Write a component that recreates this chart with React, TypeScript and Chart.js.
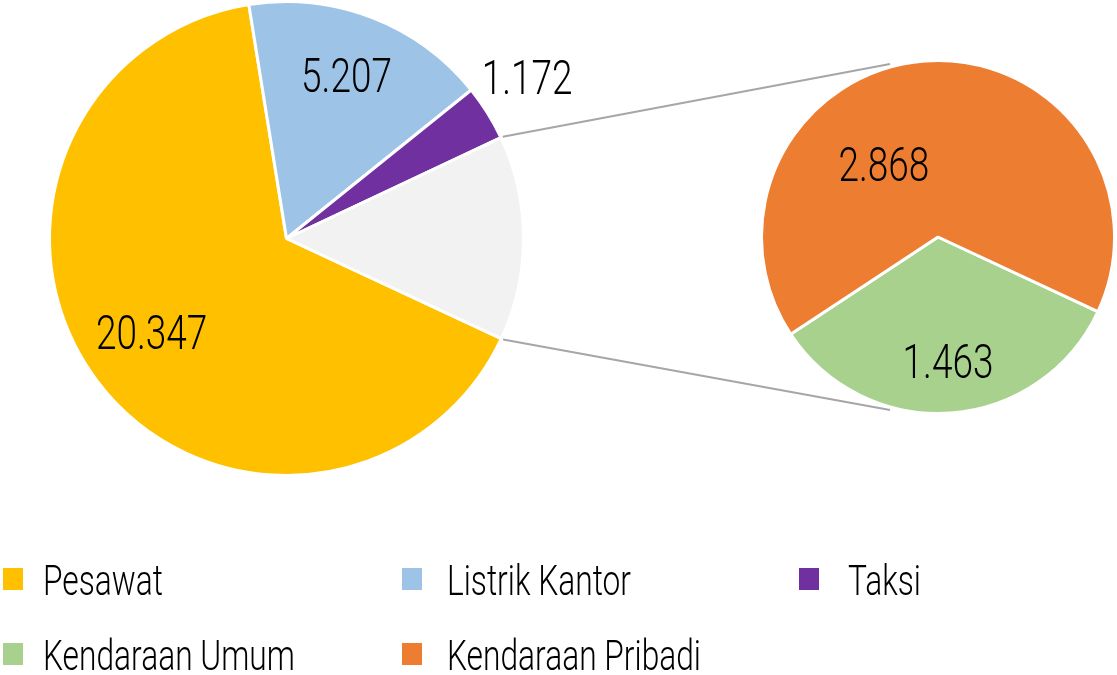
import React, { useEffect, useRef } from "react";
import { Chart, registerables } from "chart.js";

Chart.register(...registerables);

// ---- data ----
const mainLabels = ["Pesawat", "Listrik Kantor", "Taksi", "Lainnya"];
const subLabels = ["Kendaraan Umum", "Kendaraan Pribadi"];
const subValues = [1463, 2868];
const mainValues = [20347, 5207, 1172, subValues[0] + subValues[1]];
const mainColors = ["#FFC000", "#9DC3E6", "#7030A0", "#F2F2F2"];
const subColors = ["#A9D18E", "#ED7D31"];
const legendLabels = ["Pesawat", "Listrik Kantor", "Taksi", "Kendaraan Umum", "Kendaraan Pribadi"];
const legendColors = ["#FFC000", "#9DC3E6", "#7030A0", "#A9D18E", "#ED7D31"];

const FONT = 'Roboto, "DejaVu Sans Condensed", sans-serif';
const W = 1117;
const H = 675;
const NUM_SIZE = 48;
const NUM_SCALE_X = 0.77;
const LEG_SIZE = 42;
const LEG_SCALE_X = 0.755;

const fmt = (v: number) => String(v).replace(/\B(?=(\d{3})+(?!\d))/g, ".");

function drawLabels(chart: any, placement: { r: number; shift: number; show: boolean }[]) {
  const ctx = chart.ctx;
  const meta = chart.getDatasetMeta(0);
  const values = chart.data.datasets[0].data as number[];
  meta.data.forEach((arc: any, i: number) => {
    const p = placement[i];
    if (!p || !p.show) return;
    const mid = (arc.startAngle + arc.endAngle) / 2 + (p.shift * Math.PI) / 180;
    const rr = arc.outerRadius * p.r;
    const x = arc.x + rr * Math.cos(mid);
    const y = arc.y + rr * Math.sin(mid);
    ctx.save();
    ctx.font = `300 ${NUM_SIZE}px ${FONT}`;
    ctx.fillStyle = "#000";
    ctx.textAlign = "center";
    ctx.textBaseline = "alphabetic";
    ctx.translate(x, y + NUM_SIZE * 0.355);
    ctx.scale(NUM_SCALE_X, 1);
    ctx.fillText(fmt(values[i]), 0, 0);
    ctx.restore();
  });
}

export default function App() {
  const ref1 = useRef<HTMLCanvasElement>(null);
  const ref2 = useRef<HTMLCanvasElement>(null);

  useEffect(() => {
    document.body.style.margin = "0";
    const c1 = new Chart(ref1.current as HTMLCanvasElement, {
      type: "pie",
      data: {
        labels: mainLabels,
        datasets: [
          {
            data: mainValues,
            backgroundColor: mainColors,
            borderColor: "#FFFFFF",
            borderWidth: 3,
          },
        ],
      },
      options: {
        responsive: false,
        maintainAspectRatio: false,
        animation: false,
        devicePixelRatio: 1,
        rotation: 115,
        layout: { padding: { left: 48, right: W - 525, top: 0, bottom: H - 477 } },
        plugins: { legend: { display: false }, tooltip: { enabled: false } },
      },
      plugins: [
        {
          id: "mainLabels",
          afterDatasetsDraw(chart: any) {
            drawLabels(chart, [
              { r: 0.693, shift: 2.3, show: true },
              { r: 0.736, shift: -0.9, show: true },
              { r: 1.222, shift: -1.8, show: true },
              { r: 0, shift: 0, show: false },
            ]);
          },
        },
      ],
    });

    const c2 = new Chart(ref2.current as HTMLCanvasElement, {
      type: "pie",
      data: {
        labels: subLabels,
        datasets: [
          {
            data: subValues,
            backgroundColor: subColors,
            borderColor: "#FFFFFF",
            borderWidth: 3,
          },
        ],
      },
      options: {
        responsive: false,
        maintainAspectRatio: false,
        animation: false,
        devicePixelRatio: 1,
        rotation: 115,
        layout: { padding: { left: 760, right: 1, top: 59, bottom: H - 415 } },
        plugins: { legend: { display: false }, tooltip: { enabled: false } },
      },
      plugins: [
        {
          id: "subLabelsAndConnectors",
          afterDatasetsDraw(chart: any) {
            drawLabels(chart, [
              { r: 0.707, shift: -0.4, show: true },
              { r: 0.516, shift: -32.3, show: true },
            ]);
            const other = c1.getDatasetMeta(0).data[3] as any;
            const sub = chart.getDatasetMeta(0).data[0] as any;
            const R1 = other.outerRadius + 2;
            const R2 = sub.outerRadius + 3;
            const a2 = (105.5 * Math.PI) / 180;
            const ctx = chart.ctx;
            ctx.save();
            ctx.strokeStyle = "#A6A6A6";
            ctx.lineWidth = 2;
            ctx.beginPath();
            ctx.moveTo(other.x + R1 * Math.cos(other.startAngle), other.y + R1 * Math.sin(other.startAngle));
            ctx.lineTo(sub.x + R2 * Math.cos(-a2), sub.y + R2 * Math.sin(-a2));
            ctx.moveTo(other.x + R1 * Math.cos(other.endAngle), other.y + R1 * Math.sin(other.endAngle));
            ctx.lineTo(sub.x + R2 * Math.cos(a2), sub.y + R2 * Math.sin(a2));
            ctx.stroke();
            ctx.restore();
          },
        },
      ],
    });

    return () => {
      c2.destroy();
      c1.destroy();
    };
  }, []);

  const markerX = [3, 402, 799];
  const textX = [43, 447, 848];
  const rowTop = [568, 643];

  return (
    <div style={{ position: "absolute", left: 0, top: 0, width: W, height: H, background: "#fff", overflow: "hidden" }}>
      <canvas ref={ref1} width={W} height={H} style={{ position: "absolute", left: 0, top: 0, width: W, height: H }} />
      <canvas ref={ref2} width={W} height={H} style={{ position: "absolute", left: 0, top: 0, width: W, height: H }} />
      {legendLabels.map((label, i) => {
        const col = i % 3;
        const row = Math.floor(i / 3);
        return (
          <React.Fragment key={label}>
            <div
              style={{
                position: "absolute",
                left: markerX[col],
                top: rowTop[row],
                width: 20,
                height: 22,
                background: legendColors[i],
              }}
            />
            <div
              style={{
                position: "absolute",
                left: textX[col],
                top: rowTop[row] - 8,
                fontFamily: FONT,
                fontWeight: 300,
                fontSize: LEG_SIZE,
                lineHeight: `${LEG_SIZE}px`,
                color: "#000",
                whiteSpace: "nowrap",
                transform: `scaleX(${LEG_SCALE_X})`,
                transformOrigin: "left center",
              }}
            >
              {label}
            </div>
          </React.Fragment>
        );
      })}
    </div>
  );
}
